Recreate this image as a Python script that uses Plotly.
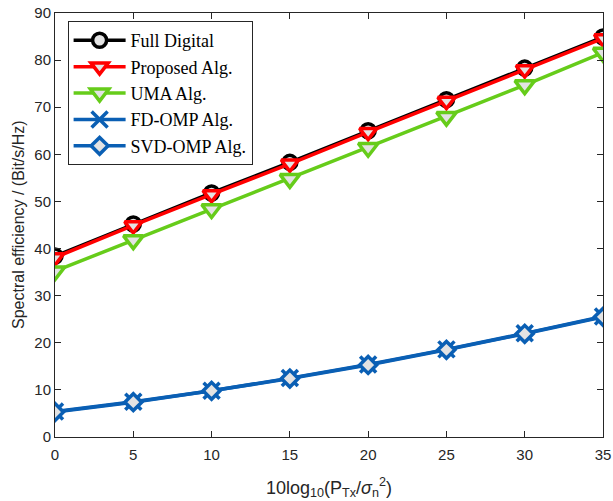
import plotly.graph_objects as go

snr = [0, 5, 10, 15, 20, 25, 30, 35]
full_digital = [38.4, 45.2, 51.8, 58.3, 65.0, 71.6, 78.3, 84.9]
proposed = [38.1, 44.9, 51.5, 58.0, 64.7, 71.3, 78.0, 84.6]
uma = [35.2, 41.8, 48.4, 54.8, 61.4, 68.0, 74.7, 81.6]
fd_omp = [5.4, 7.5, 9.8, 12.5, 15.4, 18.6, 22.0, 25.6]
svd_omp = [5.3, 7.4, 9.8, 12.4, 15.3, 18.5, 21.9, 25.5]

fill = "#e3e3e3"
series = [
    ("Full Digital", full_digital, "#000000", "circle", 14),
    ("Proposed Alg.", proposed, "#ff0000", "triangle-down", 15),
    ("UMA Alg.", uma, "#66cc1a", "triangle-down", 17),
    ("FD-OMP Alg.", fd_omp, "#0a5fb4", "x-thin-open", 16),
    ("SVD-OMP Alg.", svd_omp, "#0a5fb4", "diamond", 13),
]

fig = go.Figure()
for name, ys, col, sym, size in series:
    fig.add_trace(go.Scatter(
        x=snr, y=ys, name=name, mode="lines+markers",
        line=dict(color=col, width=3.5),
        marker=dict(symbol=sym, size=size, color=fill if "open" not in sym else col,
                    line=dict(color=col, width=3.5)),
    ))

axis_common = dict(
    showline=True, linecolor="#262626", linewidth=1, mirror="ticks",
    ticks="inside", ticklen=6, tickcolor="#262626", showgrid=False, zeroline=False,
    automargin=False,
    tickfont=dict(family="Liberation Sans, Arial", size=15, color="#262626"),
)
fig.update_xaxes(range=[0, 35], tickvals=snr, ticklabelstandoff=4, **axis_common)
fig.update_yaxes(range=[0, 90], tickvals=list(range(0, 91, 10)), **axis_common)

title_font = dict(family="Liberation Sans, Arial", size=18, color="#262626")
fig.add_annotation(
    text="10log<sub>10</sub>(P<sub>Tx</sub>/<i>σ</i><sub>n</sub><sup>2</sup>)",
    xref="paper", yref="paper", x=0.5, y=-0.118, xanchor="center", yanchor="middle",
    showarrow=False, font=title_font)
fig.add_annotation(
    text="Spectral efficiency / (Bit/s/Hz)",
    xref="paper", yref="paper", x=-0.0675, y=0.5, xanchor="center", yanchor="middle",
    textangle=-90, showarrow=False, font=dict(family="Liberation Sans, Arial", size=16, color="#262626"))

fig.update_layout(
    width=613, height=501,
    margin=dict(l=55, r=10, t=13, b=64),
    plot_bgcolor="white", paper_bgcolor="white",
    legend=dict(x=0.023, y=0.981, xanchor="left", yanchor="top",
                bgcolor="white", bordercolor="#262626", borderwidth=1,
                font=dict(family="Liberation Serif, Times New Roman", size=18, color="#000000"),
                tracegroupgap=0, itemwidth=52),
    showlegend=True,
)
fig.write_html("out.html")
